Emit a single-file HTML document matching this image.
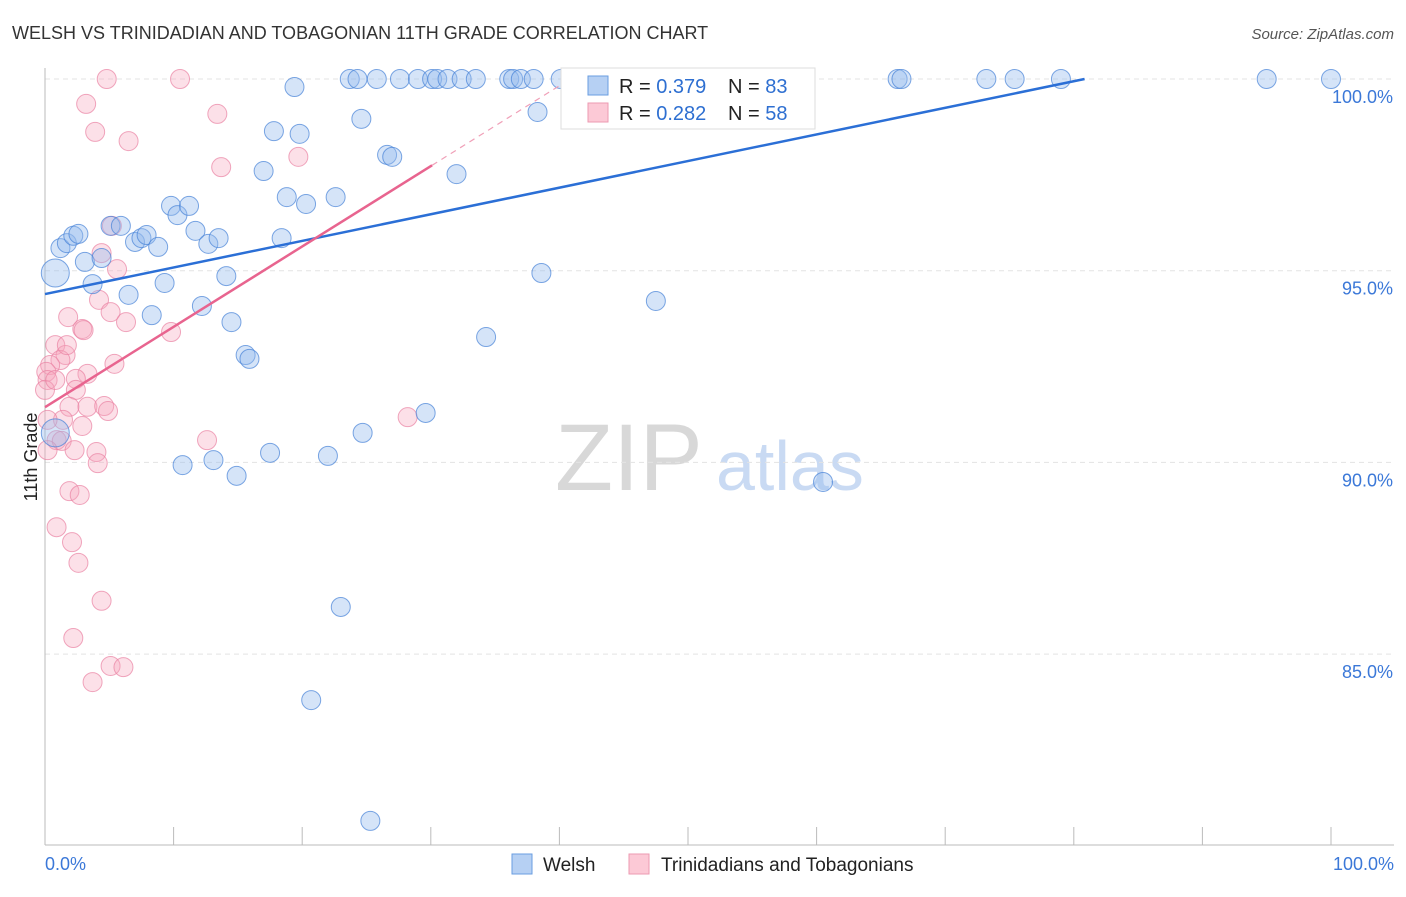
<!DOCTYPE html>
<html><head><meta charset="utf-8"><style>
body{margin:0;background:#fff;font-family:"Liberation Sans",sans-serif;}
svg text{font-family:"Liberation Sans",sans-serif;}
</style></head><body>
<svg id="chart" width="1406" height="892">
<text x="12" y="39" font-size="18" fill="#333">WELSH VS TRINIDADIAN AND TOBAGONIAN 11TH GRADE CORRELATION CHART</text>
<text x="1394" y="39" font-size="15" fill="#555" font-style="italic" text-anchor="end">Source: ZipAtlas.com</text>
<text x="37" y="457" font-size="18" fill="#222" text-anchor="middle" transform="rotate(-90 37 457)">11th Grade</text>
<text x="555" y="490" font-size="95" fill="#d8d8d8" font-family="Liberation Serif">ZIP</text>
<text x="716" y="490" font-size="70" fill="#c9daf3">atlas</text>
<g id="grid"></g><g id="axes"></g><g id="pts"></g><g id="trend"></g>
<g>
<rect x="561" y="68" width="254" height="61" fill="#fff" stroke="#ddd"/>
<rect x="588" y="76" width="20" height="19" fill="#b6d0f3" stroke="#6a9ee0"/>
<text x="619" y="93" font-size="20" fill="#222">R = <tspan fill="#2e6fd1">0.379</tspan></text>
<text x="728" y="93" font-size="20" fill="#222">N = <tspan fill="#2e6fd1">83</tspan></text>
<rect x="588" y="103" width="20" height="19" fill="#fcc9d6" stroke="#ec9ab2"/>
<text x="619" y="120" font-size="20" fill="#222">R = <tspan fill="#2e6fd1">0.282</tspan></text>
<text x="728" y="120" font-size="20" fill="#222">N = <tspan fill="#2e6fd1">58</tspan></text>
</g>
<g>
<rect x="512" y="854" width="20" height="20" fill="#b6d0f3" stroke="#6a9ee0"/>
<text x="543" y="871" font-size="19" fill="#222">Welsh</text>
<rect x="629" y="854" width="20" height="20" fill="#fcc9d6" stroke="#ec9ab2"/>
<text x="661" y="871" font-size="19" fill="#222">Trinidadians and Tobagonians</text>
</g>
</svg>
<script>
const blueX=[0.8,1.2,1.7,2.2,2.6,3.1,3.7,4.4,5.1,5.9,6.5,7.0,7.5,7.9,8.3,8.8,9.3,9.8,10.3,11.2,11.7,12.2,12.7,13.5,14.1,14.5,15.6,15.9,17.0,17.8,18.8,19.8,20.3,22.6,24.6,26.6,27.0,32.0,19.4,10.7,13.1,14.9,17.5,22.0,24.7,29.6,34.3,38.6,38.3,47.5,60.5,23.0,20.7,25.3,0.8,18.4,23.7,24.3,25.8,27.6,29.0,30.1,30.5,31.3,32.4,33.5,36.1,36.4,37.0,38.0,40.1,41.2,45.6,54.1,66.3,66.6,73.2,75.4,79.0,95.0,100];
const blueY=[94.94,95.59,95.72,95.91,95.96,95.23,94.65,95.33,96.17,96.17,94.37,95.75,95.85,95.93,93.84,95.62,94.68,96.69,96.45,96.69,96.04,94.08,95.70,95.85,94.86,93.66,92.80,92.70,97.60,98.64,96.92,98.57,96.74,96.92,98.96,98.02,97.97,97.52,99.79,89.93,90.06,89.65,90.25,90.17,90.77,91.29,93.27,94.94,99.14,94.21,89.49,86.23,83.80,80.65,90.77,95.85,100,100,100,100,100,100,100,100,100,100,100,100,100,100,100,100,100,100,100,100,100,100,100,100,100];
const pinkX=[4.8,10.5,3.2,3.9,6.5,13.4,13.7,19.7,5.2,4.4,5.6,4.2,5.1,6.3,1.8,2.9,3.0,9.8,0.8,1.6,1.2,0.4,0.1,0.2,0,3.3,5.4,2.4,2.4,1.9,3.3,4.6,4.9,1.4,2.9,0.2,0.9,1.3,2.3,4.0,4.1,12.6,28.2,0.2,1.9,2.7,0.9,2.1,2.6,4.4,2.2,5.1,6.1,3.7,1.7,0.8];
const pinkY=[100,100,99.35,98.62,98.38,99.09,97.70,97.97,96.17,95.46,95.04,94.24,93.92,93.66,93.79,93.48,93.45,93.40,93.06,92.80,92.67,92.54,92.36,92.15,91.89,92.31,92.57,92.18,91.89,91.45,91.45,91.47,91.34,91.11,90.95,91.11,90.58,90.56,90.32,90.27,89.98,90.58,91.18,90.32,89.25,89.15,88.31,87.92,87.38,86.39,85.42,84.69,84.66,84.27,93.06,92.15];
const blueTrend=[94.39,0.0694];
const pinkTrend=[91.44,0.2096];
const yTicks=[100,95,90,85];
const yTickLabels=["100.0%","95.0%","90.0%","85.0%"];
const xTicks=[0,10,20,30,40,50,60,70,80,90,100];
const NS="http://www.w3.org/2000/svg";
const sx=v=>45+v*12.86, sy=v=>79+(100-v)*38.34;
function mk(par,tag,at){const e=document.createElementNS(NS,tag);for(const k in at)e.setAttribute(k,at[k]);document.getElementById(par).appendChild(e);return e;}
yTicks.forEach((t,i)=>{
 const l=mk('grid','line',{x1:45,x2:1394,y1:sy(t),y2:sy(t),stroke:'#e3e3e3','stroke-dasharray':'5,4'});
 
 
 const tx=mk('grid','text',{x:1393,y:sy(t)+24,'font-size':18,fill:'#3b78d8','text-anchor':'end'});
 tx.textContent=yTickLabels[i];
 
 
});
const ya=mk('axes','line',{x1:45,x2:45,y1:68,y2:845,stroke:'#bbb'});


const xa=mk('axes','line',{x1:45,x2:1394,y1:845,y2:845,stroke:'#bbb'});


xTicks.forEach(t=>{const l=mk('axes','line',{x1:sx(t),x2:sx(t),y1:827,y2:845,stroke:'#bbb'});
 
 });
const x0=mk('axes','text',{x:45,y:870,'font-size':18,fill:'#3b78d8'});x0.textContent='0.0%';


const x1=mk('axes','text',{x:1394,y:870,'font-size':18,fill:'#3b78d8','text-anchor':'end'});x1.textContent='100.0%';


pinkX.forEach((x,i)=>{const c=mk('pts','circle',{cx:sx(x),cy:sy(pinkY[i]),r:9.5,fill:'rgba(246,165,190,0.35)',stroke:'rgba(233,130,163,0.7)','stroke-width':1});
 
 });
blueX.forEach((x,i)=>{const big=(i===0||i===54);const c=mk('pts','circle',{cx:sx(x),cy:sy(blueY[i]),r:big?14:9.5,fill:'rgba(150,188,238,0.4)',stroke:'rgba(70,130,215,0.7)','stroke-width':1});
 
 });
const bxEnd=(100-blueTrend[0])/blueTrend[1];
const bl=mk('trend','line',{x1:sx(0),y1:sy(blueTrend[0]),x2:sx(bxEnd),y2:sy(100),stroke:'#2b6fd6','stroke-width':2.5});


const pl=mk('trend','line',{x1:sx(0),y1:sy(pinkTrend[0]),x2:sx(30.1),y2:sy(pinkTrend[0]+30.1*pinkTrend[1]),stroke:'#e8648f','stroke-width':2.5});


const pxEnd=(100-pinkTrend[0])/pinkTrend[1];
const pd=mk('trend','line',{x1:sx(30.1),y1:sy(pinkTrend[0]+30.1*pinkTrend[1]),x2:sx(pxEnd),y2:sy(100),stroke:'#f0a0b8','stroke-width':1.2,'stroke-dasharray':'6,5'});


</script>
</body></html>
